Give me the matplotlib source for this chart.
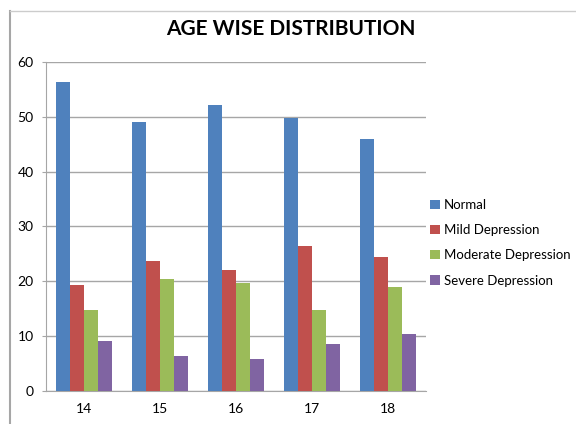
import matplotlib.pyplot as plt
import numpy as np
from matplotlib.lines import Line2D

plt.rcParams['font.family'] = ['Lato', 'DejaVu Sans']

# data
ages = ['14', '15', '16', '17', '18']
normal = [56.4, 49.0, 52.2, 49.7, 46.0]
mild = [19.4, 23.7, 22.0, 26.4, 24.5]
moderate = [14.8, 20.5, 19.6, 14.7, 18.9]
severe = [9.1, 6.4, 5.8, 8.6, 10.3]

series = [normal, mild, moderate, severe]
names = ['Normal', 'Mild Depression', 'Moderate Depression', 'Severe Depression']
colors = ['#4F81BD', '#C0504D', '#9BBB59', '#8064A2']

fig = plt.figure(figsize=(5.76, 4.24), dpi=100)
ax = fig.add_axes([0.08, 0.078, 0.66, 0.776])

x = np.arange(len(ages))
w = 0.185
for i, (vals, name, c) in enumerate(zip(series, names, colors)):
    ax.bar(x + (i - 1.5) * w, vals, w, color=c, label=name, zorder=3)

ax.set_xlim(-0.5, 4.5)
ax.set_ylim(0, 60)
ax.set_yticks(range(0, 61, 10))
ax.set_xticks(x)
ax.set_xticklabels(ages)
ax.grid(axis='y', color='#a6a6a6', linewidth=1, zorder=0)
for s in ['top', 'right']:
    ax.spines[s].set_visible(False)
for s in ['left', 'bottom']:
    ax.spines[s].set_color('#a6a6a6')
ax.tick_params(axis='y', length=3, color='#a6a6a6', labelsize=10, pad=6)
ax.tick_params(axis='x', length=0, labelsize=10, pad=9)

fig.suptitle('AGE WISE DISTRIBUTION', x=0.505, y=0.955, fontsize=15, fontweight='bold')

# outer chart border (left and top)
fig.add_artist(Line2D([0.018, 0.018], [0, 0.975], color='#a6a6a6', lw=1.5))
fig.add_artist(Line2D([0.018, 1.0], [0.975, 0.975], color='#cccccc', lw=1))

ax.legend(loc='center left', bbox_to_anchor=(0.99, 0.45), frameon=False,
          fontsize=9.5, handlelength=0.7, handleheight=0.7, handletextpad=0.3,
          labelspacing=1.0, borderaxespad=0.2)

fig.savefig('out.png', dpi=100)
